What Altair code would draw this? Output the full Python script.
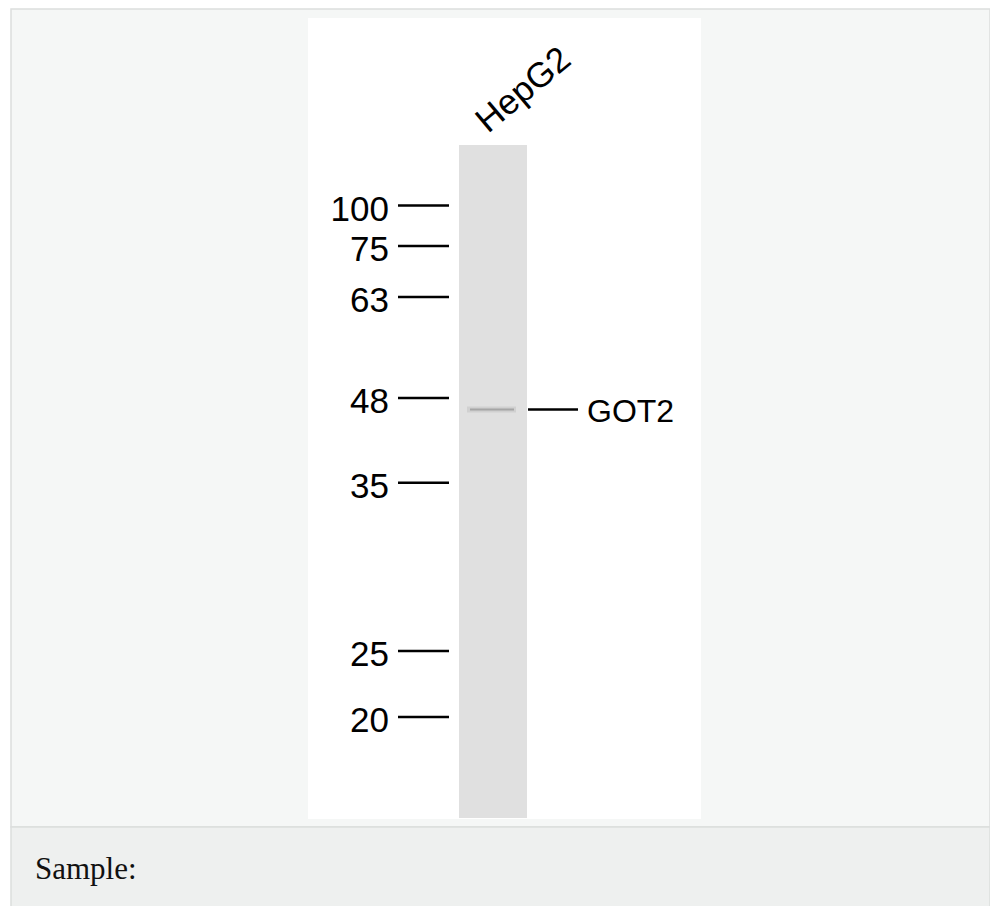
import altair as alt
import pandas as pd

# ---- data read from the blot ----
lane_names = ["HepG2"]
marker_kda = ["100", "75", "63", "48", "35", "25", "20"]
# relative migration (0 = top of lane, 1 = bottom of lane)
marker_rf = [0.090, 0.150, 0.226, 0.376, 0.502, 0.752, 0.850]
band_names = ["GOT2"]
band_rf = [0.393]
caption_text = ["Sample:"]

W, H = 982, 898
FONT = "Liberation Sans"

markers = pd.DataFrame({"kda": marker_kda, "rf": marker_rf})
bands = pd.DataFrame({"name": band_names, "rf": band_rf})
lanes = pd.DataFrame({"lane": lane_names, "top": [0.0], "bottom": [1.0]})
caption = pd.DataFrame({"text": caption_text})
one = pd.DataFrame({"a": [0]})

yscale = alt.Scale(domain=[0, 1], range=[137, 810])

outer = alt.Chart(one).mark_rect(fill="#f5f7f6", stroke="#dcdedd", strokeWidth=1.5).encode(
    x=alt.value(3), x2=alt.value(W), y=alt.value(1), y2=alt.value(819))
cap_bg = alt.Chart(one).mark_rect(fill="#eef0ef", stroke="#dcdedd", strokeWidth=1.5).encode(
    x=alt.value(3), x2=alt.value(W), y=alt.value(819), y2=alt.value(H + 5))
panel = alt.Chart(one).mark_rect(fill="#ffffff").encode(
    x=alt.value(300), x2=alt.value(693), y=alt.value(10), y2=alt.value(811))

lane = alt.Chart(lanes).mark_rect(fill="#e0e0e0").encode(
    x=alt.value(451), x2=alt.value(519),
    y=alt.Y("top:Q", scale=yscale, axis=None), y2="bottom:Q")

lane_label = alt.Chart(lanes).mark_text(
    font=FONT, fontSize=35, angle=320, align="left", baseline="alphabetic", color="#000000"
).encode(x=alt.value(480), y=alt.value(126), text="lane:N")

ticks = alt.Chart(markers).mark_rule(color="#000000", strokeWidth=2.5).encode(
    x=alt.value(390), x2=alt.value(441), y=alt.Y("rf:Q", scale=yscale, axis=None))

tick_labels = alt.Chart(markers).mark_text(
    font=FONT, fontSize=35, align="right", baseline="middle", dy=4, color="#000000"
).encode(x=alt.value(381), y=alt.Y("rf:Q", scale=yscale, axis=None), text="kda:N")

band_glow = alt.Chart(bands).mark_rule(color="#d0d0d0", strokeWidth=6).encode(
    x=alt.value(459), x2=alt.value(508), y=alt.Y("rf:Q", scale=yscale, axis=None))
band_core = alt.Chart(bands).mark_rule(color="#9a9a9a", strokeWidth=2, opacity=0.8).encode(
    x=alt.value(462), x2=alt.value(506), y=alt.Y("rf:Q", scale=yscale, axis=None))

band_rule = alt.Chart(bands).mark_rule(color="#000000", strokeWidth=2.5).encode(
    x=alt.value(520), x2=alt.value(570), y=alt.Y("rf:Q", scale=yscale, axis=None))
band_label = alt.Chart(bands).mark_text(
    font=FONT, fontSize=32, align="left", baseline="middle", dy=3, color="#000000"
).encode(x=alt.value(579), y=alt.Y("rf:Q", scale=yscale, axis=None), text="name:N")

cap_text = alt.Chart(caption).mark_text(
    font="Liberation Serif", fontSize=31, align="left", baseline="alphabetic", color="#111111"
).encode(x=alt.value(27), y=alt.value(871), text="text:N")

chart = alt.layer(
    outer, cap_bg, panel, lane, lane_label, ticks, tick_labels,
    band_glow, band_core, band_rule, band_label, cap_text
).properties(
    width=W, height=H,
    autosize=alt.AutoSizeParams(type="fit", contains="padding"),
    padding=0,
    background="#ffffff",
).configure_view(stroke=None)

chart.save("out.html", embed_options={"renderer": "svg", "actions": False})
